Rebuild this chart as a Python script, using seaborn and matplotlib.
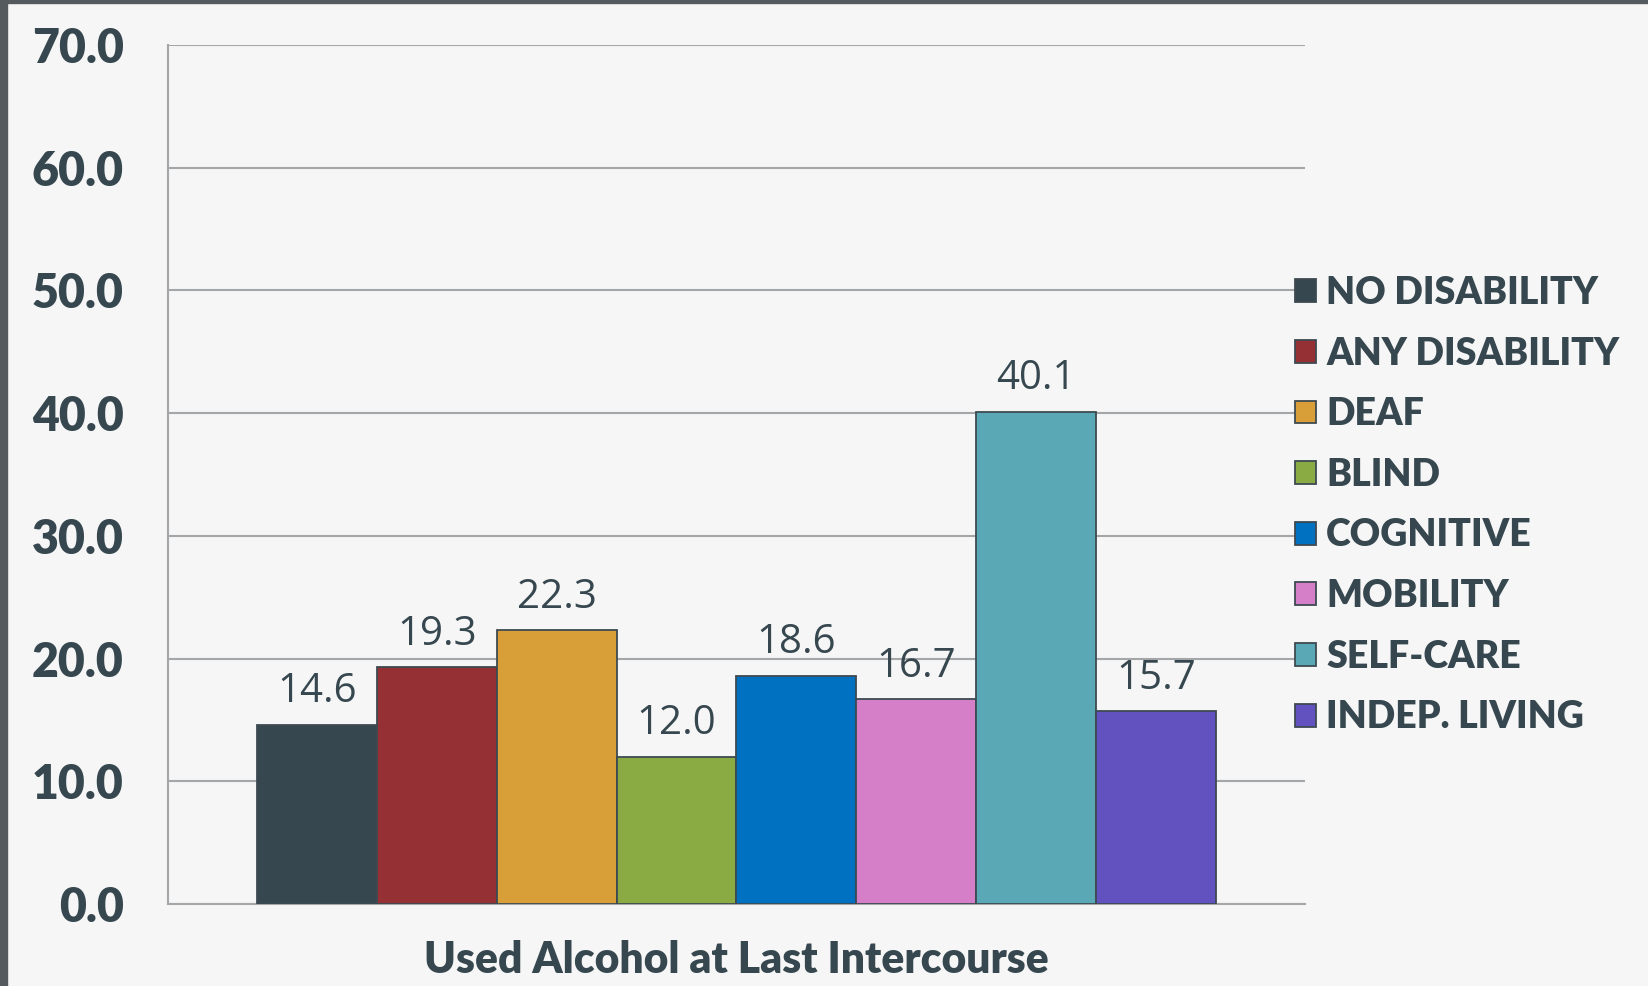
import numpy as np
import pandas as pd
import matplotlib
matplotlib.use('Agg')
import matplotlib.pyplot as plt
import seaborn as sns
from matplotlib.patches import Rectangle

# Data
measure = ['Used Alcohol at Last Intercourse']
groups = ['NO DISABILITY', 'ANY DISABILITY', 'DEAF', 'BLIND', 'COGNITIVE',
          'MOBILITY', 'SELF-CARE', 'INDEP. LIVING']
values = [14.6, 19.3, 22.3, 12.0, 18.6, 16.7, 40.1, 15.7]
colors = ['#36474f', '#953135', '#d89e37', '#8aab43', '#0070c0',
          '#d57fc8', '#5aa8b5', '#6152bf']
yticks = [0, 10, 20, 30, 40, 50, 60, 70]

df = pd.DataFrame({'measure': measure * len(groups), 'group': groups, 'value': values})

text_color = '#36474f'
grid_color = '#a3a7aa'
bg = '#f6f6f6'

sns.set_style('white')
plt.rcParams['font.family'] = ['Lato', 'DejaVu Sans']

fig = plt.figure(figsize=(16.49, 9.86), dpi=100, facecolor=bg)
ax = fig.add_axes([168 / 1649, 1 - 904 / 986, (1305 - 168) / 1649, (904 - 45) / 986])
ax.set_facecolor(bg)

# dark frame at left and top edge
fig.patches.append(Rectangle((0, 0), 7 / 1649, 1, transform=fig.transFigure,
                             color='#545a5e', zorder=0))
fig.patches.append(Rectangle((0, 1 - 3 / 986), 1, 3 / 986, transform=fig.transFigure,
                             color='#545a5e', zorder=0))

sns.barplot(data=df, x='measure', y='value', hue='group', hue_order=groups,
            palette=colors, saturation=1, width=0.843, errorbar=None,
            edgecolor='#3d4a52', linewidth=1.3, ax=ax, zorder=3)

for c in ax.containers:
    ax.bar_label(c, fmt='%.1f', padding=9, fontsize=29, color=text_color,
                 family='Open Sans')

ax.set_ylim(0, 70)
ax.set_xlim(-0.5, 0.5)
ax.set_yticks(yticks)
ax.set_yticklabels([f'{t:.1f}' for t in yticks], fontsize=33.5, fontweight='heavy',
                   color=text_color)
ax.yaxis.grid(True, color=grid_color, linewidth=1.5, zorder=0)
ax.set_axisbelow(True)
ax.tick_params(axis='y', length=11, width=1.5, color=grid_color, pad=21, direction='out')

ax.set_xticks([-0.5, 0.5], minor=True)
ax.tick_params(axis='x', which='minor', length=10, width=1.5, color=grid_color,
               direction='out')
ax.tick_params(axis='x', which='major', length=0, pad=26)
for lab in ax.get_xticklabels():
    lab.set_fontsize(30.7)
    lab.set_fontweight('heavy')
    lab.set_color(text_color)
ax.set_xlabel('')
ax.set_ylabel('')

for s in ['top', 'right']:
    ax.spines[s].set_visible(False)
for s in ['left', 'bottom']:
    ax.spines[s].set_color(grid_color)
    ax.spines[s].set_linewidth(1.5)

handles, labels = ax.get_legend_handles_labels()
leg = ax.legend(handles, labels, loc='upper left',
                bbox_to_anchor=(1295 / 1649, 1 - 276 / 986),
                bbox_transform=fig.transFigure, frameon=False,
                borderpad=0, borderaxespad=0, handlelength=0.56, handleheight=0.56,
                handletextpad=0.27, labelspacing=0.71,
                prop={'family': 'Lato', 'weight': 'heavy', 'size': 27})
for t in leg.get_texts():
    t.set_color(text_color)

fig.savefig('out.png', dpi=100, facecolor=bg)
